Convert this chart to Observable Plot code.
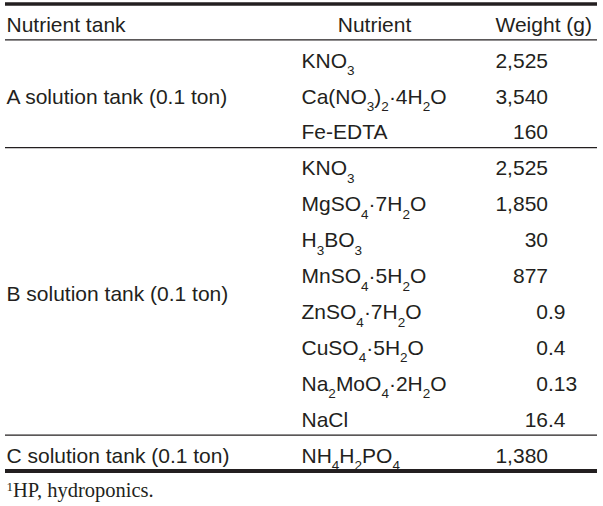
<!DOCTYPE html>
<html><head><meta charset="utf-8">
<script src="https://cdn.jsdelivr.net/npm/d3@7"></script>
<script src="https://cdn.jsdelivr.net/npm/@observablehq/plot@0.6"></script>
<style>body{margin:0;background:#fff}</style>
</head><body><div id="chart"></div>
<script>
// ---- data ----
const headers = ["Nutrient tank", "Nutrient", "Weight (g)"];
const tanks = ["A solution tank (0.1 ton)", "B solution tank (0.1 ton)", "C solution tank (0.1 ton)"];
const tankSizes = [3, 8, 1];
const nutrients = ["KNO_3", "Ca(NO_3)_2\u00B74H_2O", "Fe-EDTA",
  "KNO_3", "MgSO_4\u00B77H_2O", "H_3BO_3", "MnSO_4\u00B75H_2O", "ZnSO_4\u00B77H_2O",
  "CuSO_4\u00B75H_2O", "Na_2MoO_4\u00B72H_2O", "NaCl",
  "NH_4H_2PO_4"];
const weights = [2525, 3540, 160, 2525, 1850, 30, 877, 0.9, 0.4, 0.13, 16.4, 1380];
const footnote = "^1HP, hydroponics.";

// ---- layout (pixels) ----
const COL = {tank: 6, nutrient: 301, nutrientHead: 374, weight: 547.5, weightHead: 495};
const INK = "#231f20";

const fmt = d3.format(",");
const rows = nutrients.map((n, i) => {
  const s = fmt(weights[i]);
  const [ip, fp] = s.split(".");
  return {row: i + 1, nutrient: n, int: ip, frac: fp ? "." + fp : ""};
});
let acc = 1;
const tankRows = tanks.map((t, k) => {
  const r = {tank: t, y: acc + tankSizes[k] / 2};
  acc += tankSizes[k];
  return r;
});
const bounds = [0, 1];
{ let a = 1; for (const s of tankSizes) { a += s; bounds.push(a); } }
const nRows = bounds[bounds.length - 1];
const ruleData = bounds.map((b, i) => ({y: b, w: i === 0 ? 3.5 : i === bounds.length - 1 ? 4 : 1.2}));

const headerData = [
  {text: headers[0], x: COL.tank, anchor: "start"},
  {text: headers[1], x: COL.nutrientHead, anchor: "middle"},
  {text: headers[2], x: COL.weightHead, anchor: "start"}
];

const common = {fontSize: 21, dy: 3, fill: INK};

const svg = Plot.plot({
  width: 603, height: 506,
  marginTop: 0, marginBottom: 0, marginLeft: 5, marginRight: 6,
  x: {type: "linear", domain: [0, 603], range: [0, 603], axis: null},
  y: {type: "linear", domain: [0, nRows], range: [3.5, 470.5], axis: null},
  style: {fontFamily: "'Liberation Sans', Arial, sans-serif", background: "white", color: INK, overflow: "visible"},
  marks: [
    Plot.ruleY(ruleData, {y: "y", strokeWidth: "w", stroke: INK}),
    Plot.text(headerData.filter(d => d.anchor === "start"), {x: "x", y: 0.5, text: "text", textAnchor: "start", ...common}),
    Plot.text(headerData.filter(d => d.anchor === "middle"), {x: "x", y: 0.5, text: "text", textAnchor: "middle", ...common}),
    Plot.text(tankRows, {x: COL.tank, y: "y", text: "tank", textAnchor: "start", ...common}),
    Plot.text(rows, {x: COL.nutrient, y: d => d.row + 0.5, text: "nutrient", textAnchor: "start", ...common}),
    Plot.text(rows, {x: COL.weight, y: d => d.row + 0.5, text: "int", textAnchor: "end", ...common}),
    Plot.text(rows.filter(d => d.frac), {x: COL.weight, y: d => d.row + 0.5, text: "frac", textAnchor: "start", ...common}),
    Plot.text([footnote], {x: COL.tank, y: nRows + 0.5, text: d => d, textAnchor: "start", fontSize: 20.5, dy: 1.5, fill: INK, fontFamily: "'Liberation Serif', 'Times New Roman', serif"})
  ]
});

// sub/superscripts: "_3" -> subscript, "^1" -> superscript
d3.select(svg).selectAll("text").each(function () {
  const s = this.textContent;
  if (!/[_^]\d/.test(s)) return;
  const parts = s.split(/([_^]\d+)/).filter(p => p !== "");
  this.textContent = "";
  let off = 0;
  for (const p of parts) {
    const t = document.createElementNS("http://www.w3.org/2000/svg", "tspan");
    let target = 0, txt = p;
    if (p[0] === "_") { target = 7.5; txt = p.slice(1); t.setAttribute("font-size", 13.5); }
    else if (p[0] === "^") { target = -6; txt = p.slice(1); t.setAttribute("font-size", 13); }
    if (target - off) t.setAttribute("dy", target - off);
    off = target;
    t.textContent = txt;
    this.appendChild(t);
  }
});

document.getElementById("chart").appendChild(svg);
</script>
</body></html>
